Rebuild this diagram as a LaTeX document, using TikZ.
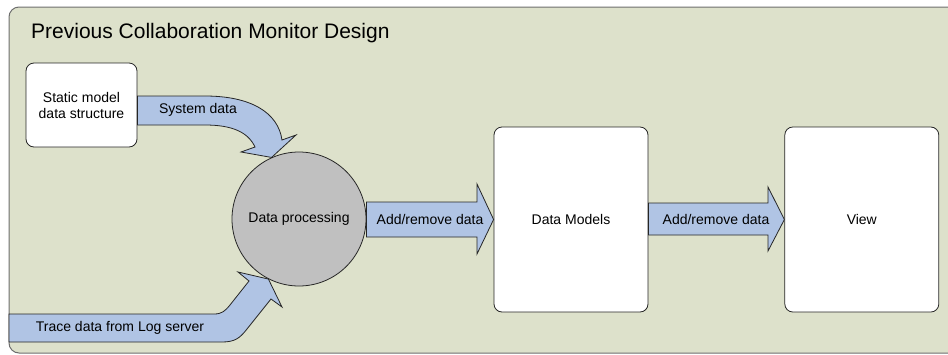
\documentclass[tikz,border=0pt]{standalone}
\usepackage{fontspec}
\setmainfont{Liberation Sans}
\usetikzlibrary{positioning}
\definecolor{cmBack}{HTML}{DDE1CB}
\definecolor{cmBlue}{HTML}{B0C4E4}
\definecolor{cmGrey}{HTML}{C0C0C0}
\definecolor{cmLine}{HTML}{262626}
\definecolor{cmFrame}{HTML}{6E6E6E}
\tikzset{
  frame/.style     = {fill=cmBack, draw=cmFrame, line width=1pt, rounded corners=10pt},
  blockbox/.style  = {draw=cmLine, fill=white, line width=0.8pt, rounded corners=8pt,
                      align=center, inner sep=0pt, font=\fontsize{14}{16}\selectfont},
  procnode/.style  = {circle, draw=cmLine, fill=cmGrey, line width=0.8pt,
                      minimum size=134pt, inner sep=0pt, font=\fontsize{14}{16}\selectfont},
  flow/.style      = {fill=cmBlue, draw=cmLine, line width=0.8pt, line join=miter},
  lbl/.style       = {font=\fontsize{14}{16}\selectfont, inner sep=0pt},
  ttl/.style       = {font=\fontsize{21}{25}\selectfont, inner sep=0pt},
}

\begin{document}
\begin{tikzpicture}[x=1pt, y=-1pt]

\useasboundingbox (0,0) rectangle (948,354);
\clip (0,0) rectangle (948,354);

% ---- frame and title ------------------------------------------------------
\draw[frame] (9,7) rectangle (970,353);
\node[ttl, anchor=base west] (title) at (31,38) {Previous Collaboration Monitor Design};

% ---- blocks ---------------------------------------------------------------
\node[blockbox, minimum width=111, minimum height=84] (static) at (81.5,105)
  {Static model\\data structure};
\node[procnode] (proc) at (299,219) {Data processing};
\node[blockbox, minimum width=154, minimum height=185] (models) at (571,219.5) {Data Models};
\node[blockbox, minimum width=154, minimum height=185, right=136pt of models] (view) {View};

% ---- system data: static -> processing (curved)
\draw[flow] (static.east |- 0,96) -- (205,96)
    .. controls (250,96) and (278,112) .. (282,140)
    -- (296,135) -- (proc.114) -- (241,152) -- (255,147)
    .. controls (248,132) and (232,125) .. (205,125)
    -- (static.east |- 0,125) -- cycle;
\node[lbl] (sysdata) at (198,110) {System data};

% ---- trace data: log server -> processing (curved)
\draw[flow] (9,342) -- (222,342)
    .. controls (235,342) and (240,338) .. (247,329)
    -- (271,299) -- (282,307) -- (proc.243) -- (238,272) -- (249,281)
    -- (230,305) .. controls (225,311) and (222,314) .. (214,314)
    -- (9,314) -- cycle;
\node[lbl] (tracedata) at (120,328) {Trace data from Log server};

% ---- add/remove: processing -> models -> view
\draw[flow] (proc.east |- 0,202) -- (477,202) -- (477,184) -- (models.west)
    -- (477,254) -- (477,237) -- (proc.east |- 0,237) -- cycle;
\node[lbl] (addone) at (430,219) {Add/remove data};

\draw[flow] (models.east |- 0,203) -- (768,203) -- (768,187) -- (view.west)
    -- (768,251) -- (768,235) -- (models.east |- 0,235) -- cycle;
\node[lbl] (addtwo) at (716,219) {Add/remove data};

\end{tikzpicture}
\end{document}
